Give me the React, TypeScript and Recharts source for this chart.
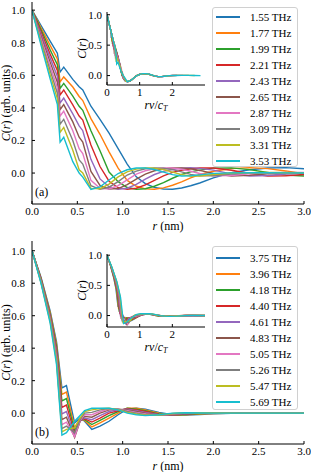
import React from "react";
import { LineChart, Line, XAxis, YAxis, Legend, Label, CartesianGrid } from "recharts";

const FONT = '"Liberation Serif", "DejaVu Serif", serif';

// panel (a): r in nm, one array per frequency
const rA = [0, 0.1, 0.2, 0.28, 0.31, 0.35, 0.45, 0.52, 0.56, 0.65, 0.75, 0.85, 0.95, 1.05, 1.15, 1.25, 1.35, 1.45, 1.55, 1.65, 1.75, 1.85, 2.0, 2.2, 2.4, 2.6, 2.8, 3.0];
const freqA = [1.55, 1.77, 1.99, 2.21, 2.43, 2.65, 2.87, 3.09, 3.31, 3.53];
const a155 = [1.0, 0.905, 0.81, 0.736, 0.62, 0.65, 0.575, 0.53, 0.51, 0.41, 0.33, 0.245, 0.15, 0.055, -0.023, -0.065, -0.088, -0.098, -0.099, -0.092, -0.078, -0.061, -0.03, 0.002, 0.02, 0.031, 0.033, 0.026];
const a177 = [1.0, 0.892, 0.784, 0.7, 0.56, 0.59, 0.528, 0.47, 0.445, 0.334, 0.238, 0.13, 0.03, -0.045, -0.081, -0.097, -0.099, -0.091, -0.075, -0.054, -0.03, -0.009, 0.011, 0.027, 0.033, 0.027, 0.013, -0.004];
const a199 = [1.0, 0.879, 0.757, 0.665, 0.52, 0.55, 0.472, 0.41, 0.385, 0.26, 0.137, 0.006, -0.053, -0.089, -0.099, -0.096, -0.081, -0.059, -0.032, -0.008, 0.007, 0.018, 0.03, 0.032, 0.021, 0.003, -0.013, -0.018];
const a221 = [1.0, 0.866, 0.73, 0.63, 0.48, 0.51, 0.418, 0.35, 0.325, 0.172, 0.04, -0.05, -0.09, -0.1, -0.093, -0.073, -0.045, -0.017, 0.004, 0.017, 0.026, 0.031, 0.031, 0.017, -0.003, -0.018, -0.017, -0.009];
const a243 = [1.0, 0.85, 0.707, 0.593, 0.43, 0.46, 0.363, 0.29, 0.26, 0.084, -0.036, -0.085, -0.099, -0.093, -0.07, -0.038, -0.009, 0.01, 0.022, 0.03, 0.033, 0.029, 0.018, -0.005, -0.018, -0.015, -0.006, 0.0];
const a265 = [1.0, 0.837, 0.681, 0.558, 0.39, 0.42, 0.314, 0.22, 0.19, 0.01, -0.076, -0.098, -0.095, -0.071, -0.037, -0.006, 0.014, 0.025, 0.031, 0.032, 0.026, 0.016, -0.003, -0.018, -0.014, -0.004, 0.001, 0.002];
const a287 = [1.0, 0.824, 0.656, 0.524, 0.35, 0.38, 0.26, 0.15, 0.12, -0.045, -0.094, -0.098, -0.077, -0.042, -0.007, 0.014, 0.026, 0.032, 0.031, 0.023, 0.011, -0.003, -0.017, -0.015, -0.004, 0.001, 0.002, 0.003];
const a309 = [1.0, 0.81, 0.63, 0.49, 0.3, 0.33, 0.2, 0.08, 0.055, -0.078, -0.1, -0.087, -0.053, -0.012, 0.012, 0.026, 0.032, 0.03, 0.021, 0.007, -0.008, -0.017, -0.017, -0.006, 0.001, 0.002, 0.003, 0.002];
const a331 = [1.0, 0.797, 0.604, 0.456, 0.25, 0.28, 0.14, 0.02, 0.0, -0.094, -0.096, -0.068, -0.024, 0.007, 0.024, 0.032, 0.03, 0.021, 0.006, -0.01, -0.018, -0.018, -0.009, 0.0, 0.002, 0.003, 0.002, 0.001];
const a353 = [1.0, 0.784, 0.578, 0.42, 0.19, 0.22, 0.07, 0.0, -0.025, -0.1, -0.085, -0.043, -0.003, 0.02, 0.031, 0.031, 0.022, 0.006, -0.01, -0.018, -0.017, -0.011, -0.002, 0.001, 0.002, 0.002, 0.001, 0.0];
const seriesA = [a155, a177, a199, a221, a243, a265, a287, a309, a331, a353];

// panel (b)
const rB = [0, 0.1, 0.2, 0.27, 0.33, 0.38, 0.47, 0.53, 0.58, 0.66, 0.75, 0.85, 0.95, 1.05, 1.15, 1.25, 1.4, 1.55, 1.7, 1.85, 2.0, 2.3, 2.6, 3.0];
const freqB = [3.75, 3.96, 4.18, 4.4, 4.61, 4.83, 5.05, 5.26, 5.47, 5.69];
const b375 = [1.0, 0.835, 0.63, 0.44, 0.155, 0.17, -0.06, -0.03, -0.05, -0.1, -0.08, -0.05, -0.01, 0.025, 0.03, 0.025, 0.005, -0.01, -0.012, -0.008, -0.004, 0.0, 0.0, 0.0];
const b396 = [1.0, 0.83, 0.62, 0.425, 0.115, 0.13, -0.09, -0.035, -0.045, -0.085, -0.06, -0.03, 0.0, 0.03, 0.03, 0.02, 0.0, -0.012, -0.01, -0.005, -0.002, 0.0, 0.001, 0.0];
const b418 = [1.0, 0.826, 0.61, 0.41, 0.075, 0.09, -0.11, -0.04, -0.04, -0.07, -0.045, -0.015, 0.01, 0.03, 0.025, 0.015, -0.005, -0.012, -0.008, -0.003, 0.0, 0.001, 0.0, 0.0];
const b440 = [1.0, 0.822, 0.6, 0.395, 0.035, 0.05, -0.125, -0.045, -0.035, -0.055, -0.03, 0.0, 0.015, 0.028, 0.02, 0.01, -0.008, -0.012, -0.006, -0.001, 0.001, 0.001, 0.0, 0.0];
const b461 = [1.0, 0.818, 0.595, 0.38, -0.005, 0.01, -0.14, -0.05, -0.03, -0.04, -0.015, 0.01, 0.02, 0.025, 0.015, 0.005, -0.01, -0.01, -0.004, 0.0, 0.001, 0.0, 0.0, 0.0];
const b483 = [1.0, 0.814, 0.59, 0.365, -0.04, -0.025, -0.15, -0.05, -0.02, -0.025, 0.0, 0.02, 0.025, 0.02, 0.01, 0.0, -0.012, -0.008, -0.002, 0.001, 0.001, 0.0, 0.0, 0.0];
const b505 = [1.0, 0.81, 0.58, 0.35, -0.07, -0.055, -0.145, -0.045, -0.01, -0.01, 0.01, 0.025, 0.025, 0.015, 0.005, -0.005, -0.013, -0.006, 0.0, 0.002, 0.001, 0.0, 0.0, 0.0];
const b526 = [1.0, 0.806, 0.575, 0.335, -0.095, -0.08, -0.12, -0.04, 0.0, 0.005, 0.02, 0.028, 0.025, 0.01, 0.0, -0.01, -0.013, -0.004, 0.001, 0.002, 0.001, 0.0, 0.0, 0.0];
const b547 = [1.0, 0.802, 0.565, 0.32, -0.115, -0.1, -0.09, -0.03, 0.01, 0.02, 0.028, 0.03, 0.022, 0.005, -0.005, -0.012, -0.012, -0.002, 0.002, 0.002, 0.001, 0.0, 0.0, 0.0];
const b569 = [1.0, 0.798, 0.555, 0.3, -0.135, -0.12, -0.05, -0.015, 0.015, 0.03, 0.03, 0.03, 0.02, 0.0, -0.01, -0.015, -0.01, 0.0, 0.002, 0.001, 0.0, 0.0, 0.0, 0.0];
const seriesB = [b375, b396, b418, b440, b461, b483, b505, b526, b547, b569];

const colors = ["#1f77b4", "#ff7f0e", "#2ca02c", "#d62728", "#9467bd", "#8c564b", "#e377c2", "#7f7f7f", "#bcbd22", "#17becf"];
// transverse sound speed (nm THz) used for the scaled inset axis
const cT = 3.7;

const mainXTicks = [0, 0.5, 1, 1.5, 2, 2.5, 3];
const mainYTicks = [0, 0.2, 0.4, 0.6, 0.8, 1];
const insetXTicks = [0, 1, 2];
const insetYTicks = [0, 0.5, 1];

const tickStyle = { fill: "#000", fontSize: 11, fontFamily: FONT };

const toRows = (r: number[], series: number[][]) =>
  r.map((rv, i) => {
    const row: Record<string, number> = { r: rv };
    series.forEach((s, j) => {
      row["c" + j] = s[i];
    });
    return row;
  });

const LegendBox = ({ payload, height, pad }: any) => (
  <div
    style={{
      width: 86,
      height,
      boxSizing: "border-box",
      border: "1px solid #d0d0d0",
      borderRadius: 3,
      background: "rgba(255,255,255,0.85)",
      paddingTop: pad,
      fontFamily: FONT,
      fontSize: 11,
      color: "#000",
    }}
  >
    {(payload || []).map((p: any, i: number) => (
      <div key={p.value} style={{ display: "flex", alignItems: "center", height: 16 }}>
        <span
          style={{
            display: "inline-block",
            width: 24,
            height: 2,
            background: p.payload?.stroke || colors[i],
            marginLeft: 3,
            marginRight: 10,
          }}
        />
        <span>{p.value}</span>
      </div>
    ))}
  </div>
);

const Inset = ({ r, series, freqs, top, yDomain }: any) => (
  <div style={{ position: "absolute", left: 60, top, width: 150, height: 112 }}>
    <LineChart width={150} height={112} margin={{ top: 12, right: 5, bottom: 7, left: 0 }}>
      <CartesianGrid xAxisId="x" yAxisId="y" horizontal={false} vertical={false} fill="#fff" />
      <XAxis xAxisId="x" dataKey="x" type="number" domain={[0, 3]} ticks={insetXTicks} interval={0} tick={tickStyle}
        tickSize={-3} tickMargin={6} height={20} stroke="#000" allowDataOverflow>
        <Label
          content={() => (
            <text x={96} y={109} textAnchor="middle" fontFamily={FONT} fontSize={12}>
              <tspan fontStyle="italic">rν</tspan>
              <tspan>/</tspan>
              <tspan fontStyle="italic">c</tspan>
              <tspan fontStyle="italic" fontSize={8} dy={2}>T</tspan>
            </text>
          )}
        />
      </XAxis>
      <XAxis xAxisId="t" orientation="top" type="number" domain={[0, 3]} ticks={insetXTicks} tick={false}
        tickSize={-3} height={0} stroke="#000" allowDataOverflow />
      <YAxis yAxisId="y" type="number" domain={yDomain} ticks={insetYTicks} interval={0}
        tickFormatter={(v: number) => v.toFixed(1)} tick={tickStyle} tickSize={-3} tickMargin={8} width={47}
        stroke="#000" allowDataOverflow>
        <Label
          content={() => (
            <text x={26} y={48.5} transform="rotate(-90, 26, 48.5)" textAnchor="middle" fontFamily={FONT} fontSize={12}>
              <tspan fontStyle="italic">C</tspan>(<tspan fontStyle="italic">r</tspan>)
            </text>
          )}
        />
      </YAxis>
      <YAxis yAxisId="rt" orientation="right" type="number" domain={yDomain} ticks={insetYTicks} tick={false}
        tickSize={-3} width={0} stroke="#000" allowDataOverflow />
      {series.map((s: number[], j: number) => (
        <Line
          key={j}
          xAxisId="x"
          yAxisId="y"
          data={r.map((rv: number, i: number) => ({ x: (rv * freqs[j]) / cT, y: s[i] }))}
          dataKey="y"
          stroke={colors[j]}
          strokeWidth={1.3}
          dot={false}
          type="linear"
          isAnimationActive={false}
        />
      ))}
    </LineChart>
  </div>
);

type PanelProps = {
  r: number[];
  series: number[][];
  freqs: number[];
  tag: string;
  top: number;
  marginTop: number;
  marginBottom: number;
  yDomain: [number, number];
  insetTop: number;
  insetDomain: [number, number];
  legendTop: number;
  legendHeight: number;
  legendPad: number;
};

const Panel = (p: PanelProps) => {
  const rows = toRows(p.r, p.series);
  const plotBottom = 236 - p.marginBottom - 20;
  const plotMid = (p.marginTop + plotBottom) / 2;
  return (
    <div style={{ position: "absolute", left: 0, top: p.top, width: 311, height: 236 }}>
      <LineChart width={311} height={236} data={rows} margin={{ top: p.marginTop, right: 7, bottom: p.marginBottom, left: 0 }}>
        <XAxis xAxisId="x" dataKey="r" type="number" domain={[0, 3]} ticks={mainXTicks} interval={0}
          tickFormatter={(v: number) => v.toFixed(1)} tick={tickStyle} tickSize={-3} tickMargin={6} height={20}
          stroke="#000" allowDataOverflow>
          <Label
            content={() => (
              <text x={168} y={plotBottom + 26} textAnchor="middle" fontFamily={FONT} fontSize={12}>
                <tspan fontStyle="italic">r</tspan> (nm)
              </text>
            )}
          />
        </XAxis>
        <XAxis xAxisId="t" orientation="top" type="number" domain={[0, 3]} ticks={mainXTicks} tick={false}
          tickSize={-3} height={0} stroke="#000" allowDataOverflow />
        <YAxis yAxisId="y" type="number" domain={p.yDomain} ticks={mainYTicks} interval={0}
          tickFormatter={(v: number) => v.toFixed(1)} tick={tickStyle} tickSize={-3} tickMargin={10} width={32}
          stroke="#000" allowDataOverflow>
          <Label
            content={() => (
              <text x={10} y={plotMid} transform={`rotate(-90, 10, ${plotMid})`} textAnchor="middle" fontFamily={FONT} fontSize={12}>
                <tspan fontStyle="italic">C</tspan>(<tspan fontStyle="italic">r</tspan>) (arb. units)
              </text>
            )}
          />
        </YAxis>
        <YAxis yAxisId="rt" orientation="right" type="number" domain={p.yDomain} ticks={mainYTicks} tick={false}
          tickSize={-3} width={0} stroke="#000" allowDataOverflow />
        {p.series.map((_, j) => (
          <Line
            key={j}
            xAxisId="x"
            yAxisId="y"
            dataKey={"c" + j}
            name={p.freqs[j].toFixed(2) + " THz"}
            stroke={colors[j]}
            strokeWidth={1.4}
            dot={false}
            type="linear"
            isAnimationActive={false}
          />
        ))}
        <Legend
          layout="vertical"
          align="center"
          verticalAlign="middle"
          content={(props: any) => <LegendBox payload={props.payload} height={p.legendHeight} pad={p.legendPad} />}
          wrapperStyle={{ left: 212, top: p.legendTop, width: 86, height: p.legendHeight }}
        />
      </LineChart>
      <Inset r={p.r} series={p.series} freqs={p.freqs} top={p.insetTop} yDomain={p.insetDomain} />
      <div style={{ position: "absolute", left: 35, top: plotBottom - 19, fontFamily: FONT, fontSize: 12 }}>{p.tag}</div>
    </div>
  );
};

export default function App() {
  return (
    <div style={{ position: "absolute", left: 0, top: 0, width: 311, height: 472, background: "#fff" }}>
      <Panel r={rA} series={seriesA} freqs={freqA} tag="(a)" top={0} marginTop={2} marginBottom={12}
        yDomain={[-0.19, 1.05]} insetTop={0} insetDomain={[-0.155, 1.045]} legendTop={7} legendHeight={160} legendPad={1} />
      <Panel r={rB} series={seriesB} freqs={freqB} tag="(b)" top={236} marginTop={5} marginBottom={8}
        yDomain={[-0.19, 1.06]} insetTop={6} insetDomain={[-0.19, 1.02]} legendTop={10} legendHeight={164} legendPad={3} />
    </div>
  );
}
